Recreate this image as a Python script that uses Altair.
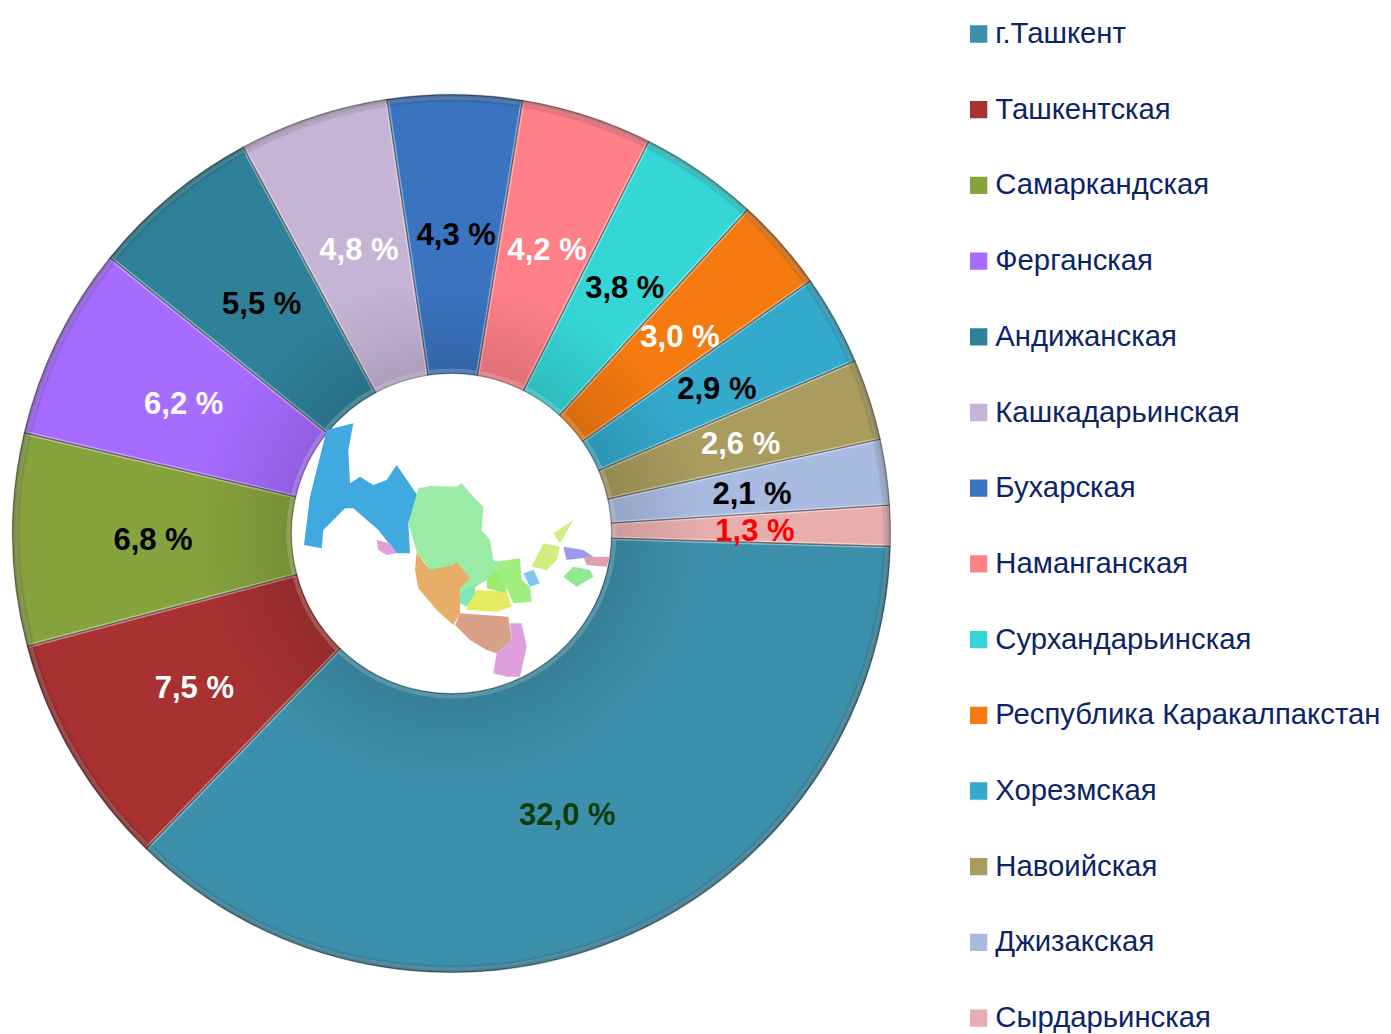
import altair as alt
import pandas as pd

regions = ["г.Ташкент", "Ташкентская", "Самаркандская", "Ферганская", "Андижанская",
           "Кашкадарьинская", "Бухарская", "Наманганская", "Сурхандарьинская",
           "Республика Каракалпакстан", "Хорезмская", "Навоийская", "Джизакская", "Сырдарьинская"]
values = [32.0, 7.5, 6.8, 6.2, 5.5, 4.8, 4.3, 4.2, 3.8, 3.0, 2.9, 2.6, 2.1, 1.3]
labels = ["32,0 %", "7,5 %", "6,8 %", "6,2 %", "5,5 %", "4,8 %", "4,3 %", "4,2 %", "3,8 %",
          "3,0 %", "2,9 %", "2,6 %", "2,1 %", "1,3 %"]
colors = ["#3D90AC", "#A83232", "#86A33E", "#A66BFF", "#2F8199", "#C6B4D6", "#3A74C0",
          "#FF8088", "#35D6D6", "#F57A10", "#33A9CC", "#A99C5E", "#A9BBE0", "#E8AEAE"]
label_colors = ["#0B3D0B", "white", "black", "white", "black", "white", "black", "white",
                "black", "white", "black", "white", "black", "#FF0000"]

# Schematic map in the hole of the ring (map units)
map_blue = [[110,150],[190,130],[175,210],[180,310],[210,290],[250,315],[290,300],[320,255],[385,350],[355,430],[360,520],[320,520],[265,450],[190,385],[165,385],[100,450],[95,505],[42,495],[60,350]]
map_pink_w = [[260,480],[300,490],[320,520],[290,525],[265,510]]
map_navoi = [[385,325],[420,318],[500,320],[515,310],[550,350],[580,380],[575,450],[600,480],[610,540],[625,545],[620,575],[590,600],[550,625],[515,640],[420,570],[380,515],[355,430]]
map_bukhara = [[380,515],[400,545],[420,570],[490,555],[500,545],[540,595],[510,625],[510,700],[490,735],[440,690],[385,625],[375,570]]
map_kashka = [[510,700],[655,710],[665,780],[620,820],[590,810],[540,780],[495,735]]
map_surkhan = [[660,730],[695,730],[710,800],[690,890],[650,890],[610,880],[620,820],[665,780]]
map_samarkand = [[540,650],[560,630],[650,635],[665,680],[620,695],[530,690]]
map_jizzakh = [[590,600],[620,570],[645,600],[650,640],[590,625]]
map_syr = [[510,640],[555,615],[555,640],[530,680],[510,670]]
map_tash = [[620,545],[690,535],[695,600],[720,620],[725,665],[670,670],[650,625],[625,600]]
map_naman = [[725,560],[760,490],[810,500],[800,540],[770,570]]
map_tail = [[790,460],[850,420],[810,490]]
map_andij = [[820,500],[880,510],[910,530],[830,540]]
map_ferg = [[820,590],[850,560],[900,570],[910,590],[860,620]]
map_east = [[880,530],[960,530],[950,560],[890,555]]
map_city = [[700,580],[730,570],[750,610],[720,620]]
map_parts = [(map_blue, "#3FA9E0"), (map_pink_w, "#DDA0DD"), (map_navoi, "#99EBA6"),
             (map_bukhara, "#E8AE68"), (map_kashka, "#D9A088"), (map_surkhan, "#DDA0DD"),
             (map_samarkand, "#E5EB60"), (map_jizzakh, "#9CEB6A"), (map_syr, "#80E8B8"),
             (map_tash, "#A0EE80"), (map_naman, "#D0EE80"), (map_tail, "#D0EE80"),
             (map_andij, "#9999EE"), (map_ferg, "#90E890"), (map_east, "#E0A0B0"),
             (map_city, "#80C8EE")]
features = [{"type": "Feature",
             "geometry": {"type": "Polygon", "coordinates": [p + [p[0]]]},
             "properties": {"c": c}} for p, c in map_parts]

df = pd.DataFrame({"region": regions, "v": values, "label": labels,
                   "lc": label_colors, "i": range(len(regions))})

CX, CY = 443.5, 525.5
OUTER, INNER = 439, 160
START = 1.6
theta = alt.Theta("v:Q", stack=True,
                  scale=alt.Scale(domain=[0, sum(values)], range=[START, START + 6.28318]))
order = alt.Order("i:Q")

slices = alt.Chart(df).mark_arc(outerRadius=OUTER, innerRadius=INNER).encode(
    x=alt.value(CX), y=alt.value(CY), theta=theta, order=order,
    color=alt.Color("region:N",
                    scale=alt.Scale(domain=regions, range=colors),
                    legend=alt.Legend(orient="none", legendX=956, legendY=11, title=None,
                                      columns=1, symbolType="square", symbolSize=300,
                                      symbolStrokeWidth=0, labelFont="Liberation Sans",
                                      labelFontSize=29.3, labelColor="#0B2566",
                                      labelOffset=2, labelLimit=500, rowPadding=44.7,
                                      clipHeight=30)))

bevel = alt.Chart(df).mark_arc(outerRadius=OUTER - 3, innerRadius=INNER + 3, fillOpacity=0,
                               stroke="#FFFFFF", strokeOpacity=0.22, strokeWidth=4).encode(
    x=alt.value(CX), y=alt.value(CY), theta=theta, order=order)
outline = alt.Chart(df).mark_arc(outerRadius=OUTER, innerRadius=INNER, fillOpacity=0,
                                 stroke="#000000", strokeOpacity=0.3, strokeWidth=1.2).encode(
    x=alt.value(CX), y=alt.value(CY), theta=theta, order=order)

shade = alt.RadialGradient(gradient="radial", x1=0.5, y1=0.5, x2=0.5, y2=0.5, r1=0, r2=0.5,
                           stops=[alt.GradientStop(offset=0.365, color="rgba(0,0,0,0.12)"),
                                  alt.GradientStop(offset=0.42, color="rgba(0,0,0,0.09)"),
                                  alt.GradientStop(offset=0.58, color="rgba(0,0,0,0)"),
                                  alt.GradientStop(offset=0.98, color="rgba(0,0,0,0)"),
                                  alt.GradientStop(offset=1, color="rgba(0,0,0,0.3)")])
rings = alt.Chart(alt.Data(values=[{"a": 1}])).mark_arc(
    outerRadius=OUTER, innerRadius=INNER, fill=shade).encode(
    x=alt.value(CX), y=alt.value(CY), theta=alt.value(0), theta2=alt.value(6.2832))

texts = alt.Chart(df).mark_text(radius=301, font="Liberation Sans", fontSize=31,
                                fontWeight="bold", dx=2.5, dy=3.5).encode(
    x=alt.value(CX), y=alt.value(CY), theta=theta, order=order,
    text="label:N", color=alt.Color("lc:N", scale=None))

themap = alt.Chart(alt.Data(values=features)).mark_geoshape(strokeWidth=0).encode(
    color=alt.Color("properties.c:N", scale=None)
).project(type="identity", scale=1/3, translate=[282, 372])

chart = alt.layer(slices, bevel, rings, outline, themap, texts).resolve_scale(color="independent").properties(
    width=1375, height=1026, padding=0, autosize="none"
).configure_view(stroke=None)

chart.save("out.html", embed_options={"renderer": "svg", "actions": False})
